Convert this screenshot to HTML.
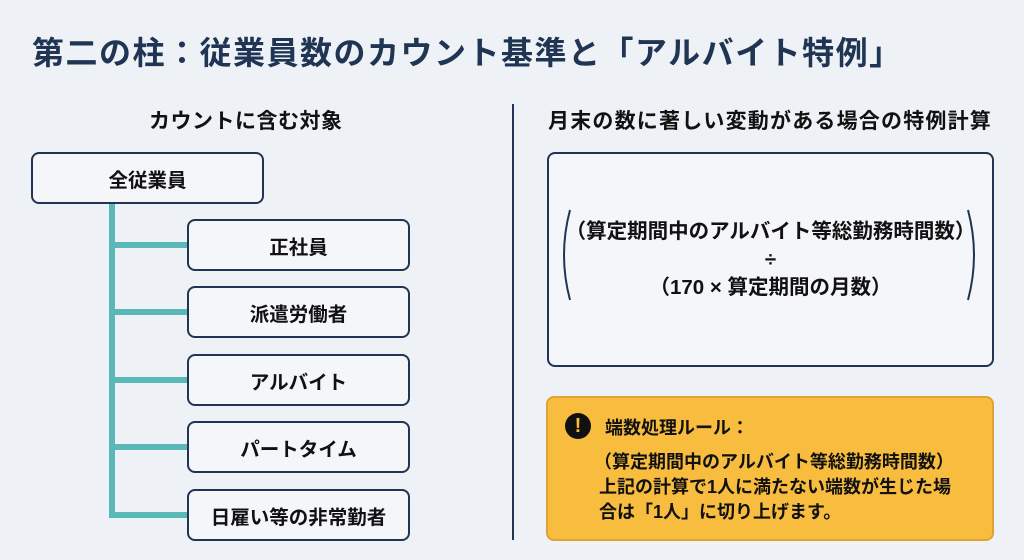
<!DOCTYPE html>
<html><head><meta charset="utf-8">
<style>
*{margin:0;padding:0;box-sizing:border-box}
body{width:1024px;height:560px;background:#eef2f6;position:relative;overflow:hidden;font-family:"Liberation Sans","Noto Sans CJK JP",sans-serif;color:#111;font-weight:bold}
.a{position:absolute}
.box{position:absolute;border:2px solid #1f3553;border-radius:8px;background:#f4f6f9;display:flex;align-items:center;justify-content:center;font-size:19.5px}
.t{position:absolute;white-space:nowrap}
.teal{position:absolute;background:#5bb8b8}
</style></head><body>
<div class="t" style="left:32px;top:28px;font-size:32px;color:#1f3553;letter-spacing:1.5px">第二の柱：従業員数のカウント基準と「アルバイト特例」</div>
<div class="t" style="left:149px;top:105px;font-size:21px;letter-spacing:0.5px">カウントに含む対象</div>
<div class="t" style="left:548px;top:105px;font-size:21px;letter-spacing:1.2px">月末の数に著しい変動がある場合の特例計算</div>
<div class="a" style="left:512px;top:104px;width:2px;height:436px;background:#1f3553"></div>

<div class="teal" style="left:109px;top:203px;width:6px;height:312px"></div>
<div class="teal" style="left:109px;top:242px;width:80px;height:6px"></div>
<div class="teal" style="left:109px;top:309px;width:80px;height:6px"></div>
<div class="teal" style="left:109px;top:377px;width:80px;height:6px"></div>
<div class="teal" style="left:109px;top:444px;width:80px;height:6px"></div>
<div class="teal" style="left:109px;top:512px;width:80px;height:6px"></div>

<div class="box" style="left:31px;top:152px;width:233px;height:52px">全従業員</div>
<div class="box" style="left:187px;top:219px;width:223px;height:52px">正社員</div>
<div class="box" style="left:187px;top:286px;width:223px;height:52px">派遣労働者</div>
<div class="box" style="left:187px;top:354px;width:223px;height:52px">アルバイト</div>
<div class="box" style="left:187px;top:421px;width:223px;height:52px">パートタイム</div>
<div class="box" style="left:187px;top:489px;width:223px;height:52px">日雇い等の非常勤者</div>

<div class="box" style="left:547px;top:152px;width:447px;height:215px;flex-direction:column;font-size:20.5px;line-height:28px">
<div>（算定期間中のアルバイト等総勤務時間数）</div>
<div>÷</div>
<div>（170 × 算定期間の月数）</div>
</div>
<svg class="a" style="left:555px;top:205px" width="430" height="100">
<path d="M15 5 Q3 50 15 95" stroke="#1f3553" stroke-width="2" fill="none"/>
<path d="M413 5 Q425 50 413 95" stroke="#1f3553" stroke-width="2" fill="none"/>
</svg>

<div class="a" style="left:546px;top:396px;width:448px;height:145px;background:#f8bd3f;border:2px solid #e0a232;border-radius:8px"></div>
<div class="a" style="left:565px;top:413px;width:26px;height:26px;border-radius:50%;background:#111;color:#f8bd3f;font-size:20px;text-align:center;line-height:26px">!</div>
<div class="t" style="left:605px;top:414px;font-size:18px">端数処理ルール：</div>
<div class="t" style="left:594px;top:450px;font-size:18px;line-height:25px">（算定期間中のアルバイト等総勤務時間数）<br>&nbsp;上記の計算で1人に満たない端数が生じた場<br>&nbsp;合は「1人」に切り上げます。</div>
</body></html>
